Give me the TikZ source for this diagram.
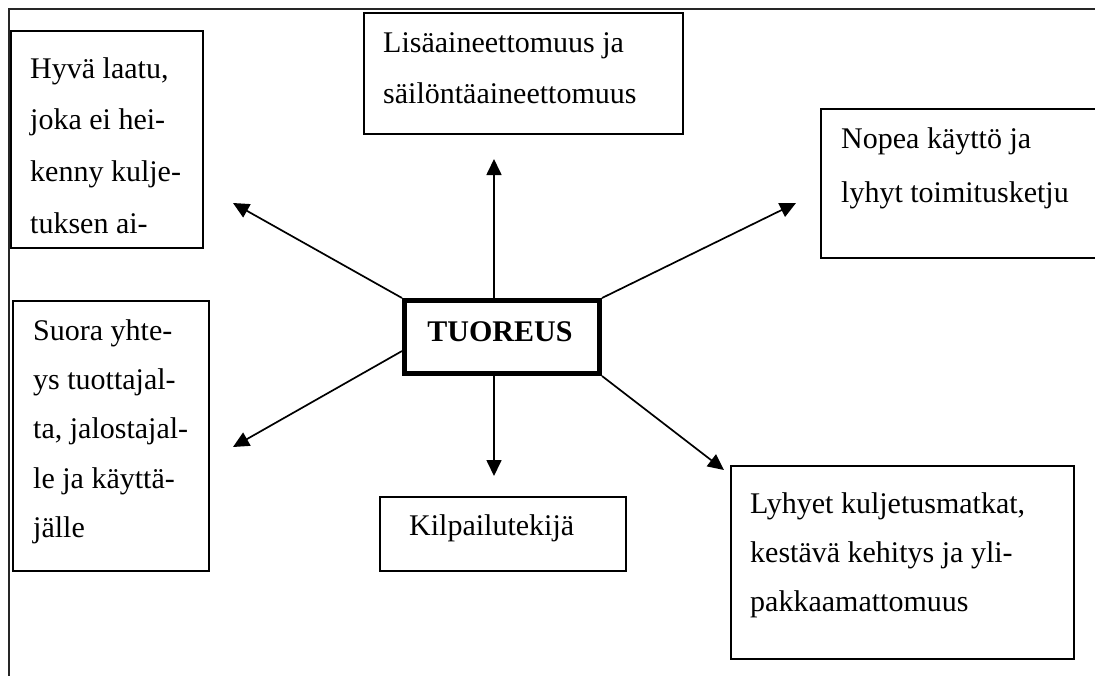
\documentclass[tikz,border=0pt]{standalone}
\usepackage{fontspec}
\setmainfont{Liberation Serif}
\usetikzlibrary{arrows.meta,calc}
\newcommand{\firststrut}{\rule{0pt}{22pt}}
\begin{document}
\begin{tikzpicture}[x=1pt,y=-1pt,
  frame/.style={line width=2.4pt,draw=black!85},
  boxed/.style={draw=black,line width=2pt,rectangle,inner sep=0pt,anchor=north west},
  hub/.style={draw=black,line width=5pt,rectangle,inner sep=0pt},
  txt/.style={inner sep=0pt,anchor=north west,align=left,font=\fontsize{30}{#1}\selectfont},
  txt/.default=51,
  conn/.style={line width=1.7pt,-{Triangle[length=16pt,width=15pt]}}
]
\useasboundingbox (0,0) rectangle (1095,675);
\clip (0,0) rectangle (1095,675);

% outer frame
\draw[frame] (9,676) -- (9,9) -- (1100,9);

% boxes
\node[boxed,minimum width=192pt,minimum height=217pt] (hyva) at (10,30) {};
\node[boxed,minimum width=319pt,minimum height=121pt] (lisa) at (363,12) {};
\node[boxed,minimum width=290pt,minimum height=149pt] (nopea) at (820,108) {};
\node[boxed,minimum width=196pt,minimum height=270pt] (suora) at (12,300) {};
\node[boxed,minimum width=246pt,minimum height=74pt] (kilp) at (379,496) {};
\node[boxed,minimum width=343pt,minimum height=193pt] (lyhyet) at (730,465) {};
\node[hub,minimum width=195pt,minimum height=73pt] (tuor) at (502,337) {};

% texts
\node[txt=51.7] (hyvat) at (30,56) {\firststrut Hyvä laatu,\\joka ei hei-\\kenny kulje-\\tuksen ai-};
\node[txt=51] (lisat) at (383,30) {\firststrut Lisäaineettomuus ja\\säilöntäaineettomuus};
\node[txt=54] (nopeat) at (841,126) {\firststrut Nopea käyttö ja\\lyhyt toimitusketju};
\node[txt=49.3] (suorat) at (33,318) {\firststrut Suora yhte-\\ys tuottajal-\\ta, jalostajal-\\le ja käyttä-\\jälle};
\node[txt=49] (lyhyett) at (750,491) {\firststrut Lyhyet kuljetusmatkat,\\kestävä kehitys ja yli-\\pakkaamattomuus};
\node[inner sep=0pt,anchor=base west,font=\fontsize{30}{36}\selectfont] (kilpt) at (409,535) {Kilpailutekijä};
\node[inner sep=0pt,anchor=base,font=\fontsize{30}{36}\selectfont\bfseries] (tuort) at (500,341) {TUOREUS};

% arrow tips
\coordinate (tipHyva) at (233,203);
\coordinate (tipLisa) at (494,159);
\coordinate (tipNopea) at (796,203);
\coordinate (tipSuora) at (233,447);
\coordinate (tipKilp) at (494,476);
\coordinate (tipLyhyet) at (724,470);

% connectors
\draw[conn] (tuor.north west) -- (tipHyva);
\draw[conn] (tuor.north -| tipLisa) -- (tipLisa);
\draw[conn] (tuor.north east) -- (tipNopea);
\draw[conn] ($(tuor.south west)!0.32!(tuor.north west)$) -- (tipSuora);
\draw[conn] (tuor.south -| tipKilp) -- (tipKilp);
\draw[conn] (tuor.south east) -- (tipLyhyet);
\end{tikzpicture}
\end{document}
